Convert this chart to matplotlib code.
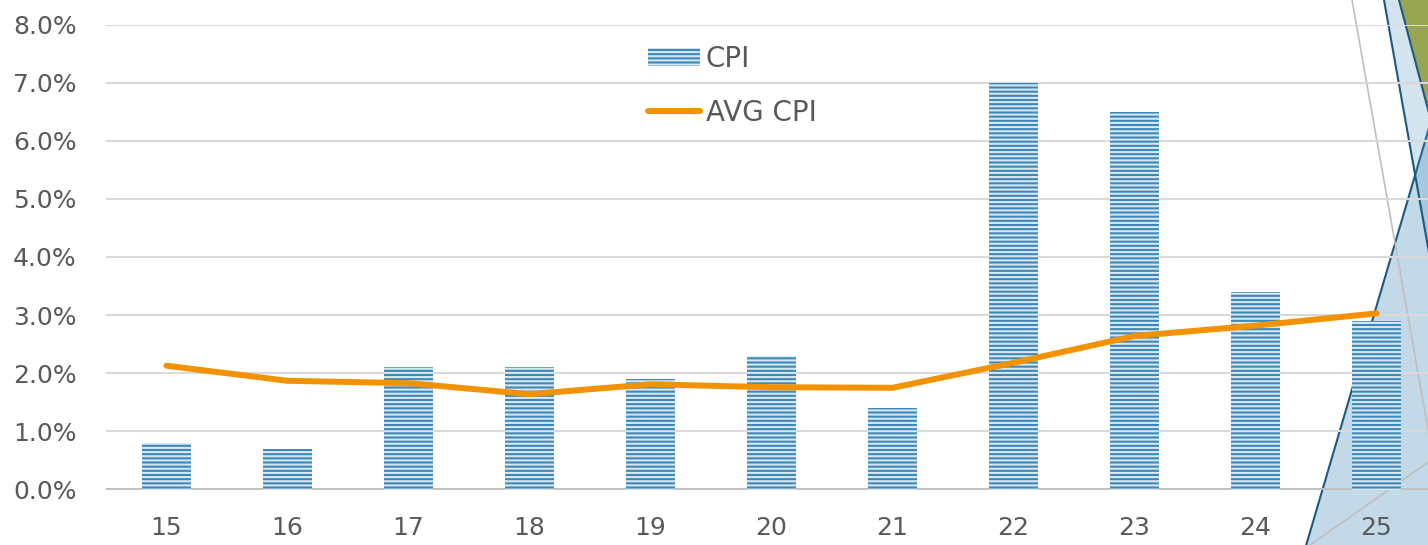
import matplotlib
matplotlib.use("Agg")
import matplotlib.pyplot as plt
from matplotlib.patches import Polygon, Patch
from matplotlib.lines import Line2D
from matplotlib.ticker import FuncFormatter

# ---- data ----
years = ["15", "16", "17", "18", "19", "20", "21", "22", "23", "24", "25"]
cpi = [0.8, 0.7, 2.1, 2.1, 1.9, 2.3, 1.4, 7.0, 6.5, 3.4, 2.9]
avg_cpi = [2.13, 1.87, 1.83, 1.64, 1.81, 1.76, 1.75, 2.18, 2.64, 2.82, 3.03]
y_ticks = [0, 1, 2, 3, 4, 5, 6, 7, 8]

W, H = 1428, 545
plt.rcParams['font.family'] = ['DejaVu Sans']
plt.rcParams['hatch.linewidth'] = 1.5

fig = plt.figure(figsize=(W / 100, H / 100), dpi=100)
fig.patch.set_facecolor('white')


def fpt(x, y):
    return (x / W, 1 - y / H)


def fpoly(pts, **kw):
    p = Polygon([fpt(x, y) for x, y in pts], closed=True,
                transform=fig.transFigure, **kw)
    fig.patches.append(p)


def fline(pts, **kw):
    xs = [x / W for x, y in pts]
    ys = [1 - y / H for x, y in pts]
    fig.lines.append(Line2D(xs, ys, transform=fig.transFigure, **kw))


# ---- decorative slide shapes (behind chart) ----
navy = '#1c5a82'
# big light blue triangle
fpoly([(1290, 600), (1502, -120), (1700, -120), (1700, 600)],
      facecolor='#c3d9e8', edgecolor=navy, linewidth=1.5, zorder=0)
# pale translucent triangle
fpoly([(1384, 0), (1530, 820), (1700, 820), (1700, -10), (1384, -10)],
      facecolor='#4a90bf', alpha=0.24, edgecolor='none', zorder=0.1)
fline([(1384, 0), (1530, 820)], color=navy, linewidth=1.5, zorder=0.2)
# green triangle
fpoly([(1399, 0), (1460, 230), (1600, 230), (1600, -10), (1399, -10)],
      facecolor='#98a553', edgecolor=navy, linewidth=1.5, zorder=0.3)
# thin gray lines
fline([(1352, 0), (1452, 565)], color='#bfbfbf', linewidth=1.2, zorder=0.4)
fline([(1300, 552), (1460, 440)], color='#bfbfbf', linewidth=1.2, zorder=0.4)

# ---- chart axes ----
left, right = 106, 1437
top, bottom = 24.5, 489.5
ax = fig.add_axes([left / W, 1 - bottom / H, (right - left) / W, (bottom - top) / H])
ax.set_facecolor('none')
ax.set_zorder(2)

x = list(range(len(years)))
ax.bar(x, cpi, width=0.4, color='#3e88b8', edgecolor='#d6e8f3', linewidth=0,
       hatch='----', zorder=3, label='CPI')
ax.plot(x, avg_cpi, color='#F39200', linewidth=4.3, solid_capstyle='round',
        zorder=4, label='AVG CPI')

ax.set_xlim(-0.5, len(years) - 0.5)
ax.set_ylim(0, 8)
ax.set_yticks(y_ticks)
ax.yaxis.set_major_formatter(FuncFormatter(lambda v, p: f"{v:.1f}%"))
ax.set_xticks(x)
ax.set_xticklabels(years)
ax.grid(axis='y', color='#d9d9d9', linewidth=1.5, zorder=1)
ax.set_axisbelow(True)
ax.axhline(0, color='#bfbfbf', linewidth=2.8, zorder=2.5)
for s in ax.spines.values():
    s.set_visible(False)
ax.tick_params(axis='both', length=0, colors='#595959', labelsize=18)
ax.tick_params(axis='y', pad=21)
ax.tick_params(axis='x', pad=19)

handles = [Patch(facecolor='#3e88b8', edgecolor='#d6e8f3', linewidth=0, hatch='----'),
           Line2D([], [], color='#F39200', linewidth=4.3, solid_capstyle='round')]
leg = fig.legend(handles, ['CPI', 'AVG CPI'], loc='upper left',
                 bbox_to_anchor=fpt(648, 45), frameon=False, fontsize=20,
                 borderpad=0, borderaxespad=0, handlelength=1.87,
                 handleheight=0.62, handletextpad=0.2, labelspacing=0.92)
for t in leg.get_texts():
    t.set_color('#595959')
leg.set_zorder(5)

fig.savefig('out.png', dpi=100)
